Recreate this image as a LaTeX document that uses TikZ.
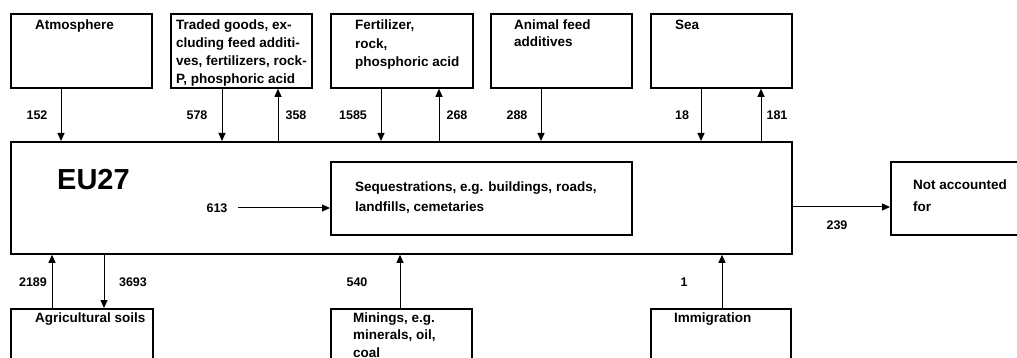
\documentclass[tikz,border=0pt]{standalone}
\usepackage{fontspec}
\setmainfont{Liberation Sans}
\usetikzlibrary{arrows.meta}
\begin{document}
\begin{tikzpicture}[x=1pt,y=-1pt,
  box/.style={draw, line width=1.8pt, inner sep=0pt, anchor=north west},
  arr/.style={line width=1pt, -{Triangle[length=8pt,width=7pt]}},
  txt/.style={font=\bfseries\fontsize{13.5}{18}\selectfont, inner sep=0pt, anchor=base west, align=left},
  num/.style={font=\bfseries\fontsize{12.5}{15}\selectfont, inner sep=0pt}]
\useasboundingbox (0,0) rectangle (1017,358);
\clip (0,0) rectangle (1017,358);
% boxes
\node[box, minimum width=141pt, minimum height=74pt] (atm) at (10,13) {};
\node[box, minimum width=141pt, minimum height=74pt] (trd) at (170,13) {};
\node[box, minimum width=142pt, minimum height=74pt] (fer) at (330,13) {};
\node[box, minimum width=141pt, minimum height=74pt] (ani) at (490,13) {};
\node[box, minimum width=141pt, minimum height=74pt] (sea) at (650,13) {};
\node[box, minimum width=781pt, minimum height=112pt] (eu) at (10,141) {};
\node[box, minimum width=301pt, minimum height=73pt] (seq) at (330,161) {};
\node[box, minimum width=141pt, minimum height=73pt] (nac) at (890,161) {};
\node[box, minimum width=142pt, minimum height=74pt] (agr) at (10,308) {};
\node[box, minimum width=141pt, minimum height=74pt] (min) at (330,308) {};
\node[box, minimum width=140pt, minimum height=74pt] (imm) at (650,308) {};
% texts (base anchor = baseline of last line)
\node[txt] (tatm) at (35,30) {Atmosphere};
\node[txt] (ttrd) at (176,84) {Traded goods, ex-\\cluding feed additi-\\ves, fertilizers, rock-\\P, phosphoric acid};
\node[txt, font=\bfseries\fontsize{13.5}{18.3}\selectfont] (tfer) at (355,66.6) {Fertilizer,\\rock,\\phosphoric acid};
\node[txt, font=\bfseries\fontsize{13.5}{17}\selectfont] (tani) at (514,47) {Animal feed\\additives};
\node[txt] (tsea) at (675,30) {Sea};
\node[txt, font=\bfseries\fontsize{29}{30}\selectfont] (teu) at (57,190) {EU27};
\node[txt, font=\bfseries\fontsize{13.5}{20}\selectfont] (tseq) at (355,211.5) {Sequestrations, e.g. buildings, roads,\\landfills, cemetaries};
\node[txt, font=\bfseries\fontsize{13.5}{22}\selectfont] (tnac) at (913,211.5) {Not accounted\\for};
\node[txt] (tagr) at (35,322.5) {Agricultural soils};
\node[txt, font=\bfseries\fontsize{13.5}{17.5}\selectfont] (tmin) at (353,357) {Minings, e.g.\\minerals, oil,\\coal};
\node[txt] (timm) at (674,322.5) {Immigration};
% arrow x positions
\coordinate (x1) at (61,0);
\coordinate (x2) at (222,0);
\coordinate (x3) at (278,0);
\coordinate (x4) at (381,0);
\coordinate (x5) at (439,0);
\coordinate (x6) at (541,0);
\coordinate (x7) at (701,0);
\coordinate (x8) at (761,0);
\coordinate (x9) at (52,0);
\coordinate (x10) at (104,0);
\coordinate (x11) at (400,0);
\coordinate (x12) at (722,0);
\coordinate (s613) at (238,208);
\coordinate (y239) at (0,207);
% top flows
\draw[arr] (x1 |- atm.south) -- (x1 |- eu.north);
\draw[arr] (x2 |- trd.south) -- (x2 |- eu.north);
\draw[arr] (x3 |- eu.north) -- (x3 |- trd.south);
\draw[arr] (x4 |- fer.south) -- (x4 |- eu.north);
\draw[arr] (x5 |- eu.north) -- (x5 |- fer.south);
\draw[arr] (x6 |- ani.south) -- (x6 |- eu.north);
\draw[arr] (x7 |- sea.south) -- (x7 |- eu.north);
\draw[arr] (x8 |- eu.north) -- (x8 |- sea.south);
% bottom flows
\draw[arr] (x9 |- agr.north) -- (x9 |- eu.south);
\draw[arr] (x10 |- eu.south) -- (x10 |- agr.north);
\draw[arr] (x11 |- min.north) -- (x11 |- eu.south);
\draw[arr] (x12 |- imm.north) -- (x12 |- eu.south);
% internal and outflow
\draw[arr] (s613) -- (seq.west |- s613);
\draw[arr] (eu.east |- y239) -- (nac.west |- y239);
% numbers
\node[num] (n152) at (37,115) {152};
\node[num] (n578) at (197,115) {578};
\node[num] (n358) at (296,115) {358};
\node[num] (n1585) at (353,115) {1585};
\node[num] (n268) at (457,115) {268};
\node[num] (n288) at (517,115) {288};
\node[num] (n18) at (682,115) {18};
\node[num] (n181) at (777,115) {181};
\node[num] (n613) at (217,208) {613};
\node[num] (n239) at (837,225) {239};
\node[num] (n2189) at (33,282) {2189};
\node[num] (n3693) at (133,282) {3693};
\node[num] (n540) at (357,282) {540};
\node[num] (n1) at (684,282) {1};
\end{tikzpicture}
\end{document}
